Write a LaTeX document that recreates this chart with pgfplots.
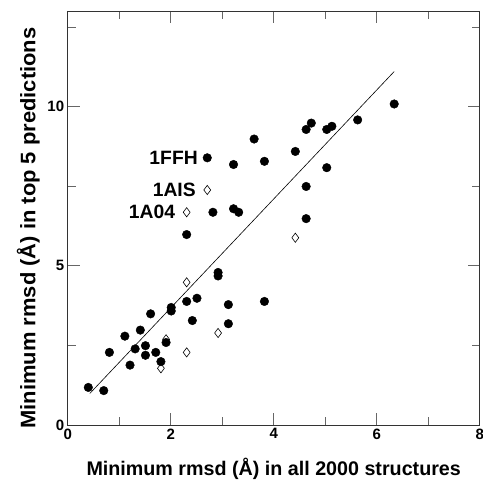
\documentclass[border=0pt]{standalone}
\usepackage{pgfplots}
\pgfplotsset{compat=1.18}
\usepackage{fontspec}
\setmainfont{Liberation Sans}
\begin{document}
\begin{tikzpicture}
\begin{axis}[
  scale only axis, width=412pt, height=414pt,
  at={(0,0)}, anchor=south west,
  xmin=0, xmax=8, ymin=0, ymax=13,
  xtick={0,2,4,6,8}, minor xtick={1,3,5,7},
  ytick={0,5,10}, minor ytick={2.5,7.5,12.5},
  tick align=inside,
  major tick length=12pt, minor tick length=8pt,
  every tick/.style={black!60, line width=0.8pt},
  axis line style={black!80, line width=0.8pt},
  ticklabel style={font=\fontsize{15}{17}\selectfont\bfseries},
  /pgf/number format/assume math mode=true,
  xlabel={Minimum rmsd (Å) in all 2000 structures},
  ylabel={\scalebox{1.045}[1]{Minimum rmsd (Å) in top 5 predictions}},
  xlabel style={font=\fontsize{19.7}{22}\selectfont\bfseries, yshift=-12pt},
  ylabel style={font=\fontsize{21}{24}\selectfont\bfseries, yshift=1pt, xshift=-10pt},
  clip=false,
]
\addplot[black, line width=0.6pt] coordinates {(0.43,0.99) (6.34,11.1)};
\addplot[only marks, mark=*, mark size=4.3pt, black] coordinates {
(0.40,1.18) (0.70,1.08) (0.81,2.28) (1.11,2.79) (1.21,1.88) (1.31,2.39)
(1.41,2.98) (1.51,2.49) (1.51,2.19) (1.61,3.49) (1.71,2.28) (1.81,1.99)
(1.91,2.59) (2.01,3.69) (2.01,3.58) (2.31,5.98) (2.31,3.88) (2.42,3.28)
(2.51,3.98) (2.71,8.39) (2.82,6.68) (2.92,4.79) (2.92,4.68) (3.12,3.78)
(3.12,3.18) (3.22,8.18) (3.22,6.79) (3.32,6.68) (3.62,8.98) (3.82,8.28)
(3.82,3.88) (4.42,8.59) (4.63,9.28) (4.73,9.48) (4.63,7.49) (4.63,6.48)
(5.03,9.28) (5.13,9.38) (5.03,8.08) (5.63,9.58) (6.34,10.08)
};
\addplot[only marks, mark=diamond, mark size=4.6pt, black, mark options={fill=white, line width=0.6pt}] coordinates {
(1.81,1.78) (1.91,2.69) (2.31,2.28) (2.31,4.48) (2.92,2.89)
(2.31,6.68) (2.71,7.38) (4.42,5.88)
};
\node[anchor=east, font=\fontsize{19.3}{22}\selectfont\bfseries] at (axis cs:2.71,8.39) [xshift=-6pt] {1FFH};
\node[anchor=east, font=\fontsize{19.3}{22}\selectfont\bfseries] at (axis cs:2.71,7.38) [xshift=-8pt] {1AIS};
\node[anchor=east, font=\fontsize{19.3}{22}\selectfont\bfseries] at (axis cs:2.31,6.68) [xshift=-8pt] {1A04};
\end{axis}
\pgfresetboundingbox
\useasboundingbox (-67.7pt,-57pt) rectangle (415.3pt,425pt);
\end{tikzpicture}
\end{document}
